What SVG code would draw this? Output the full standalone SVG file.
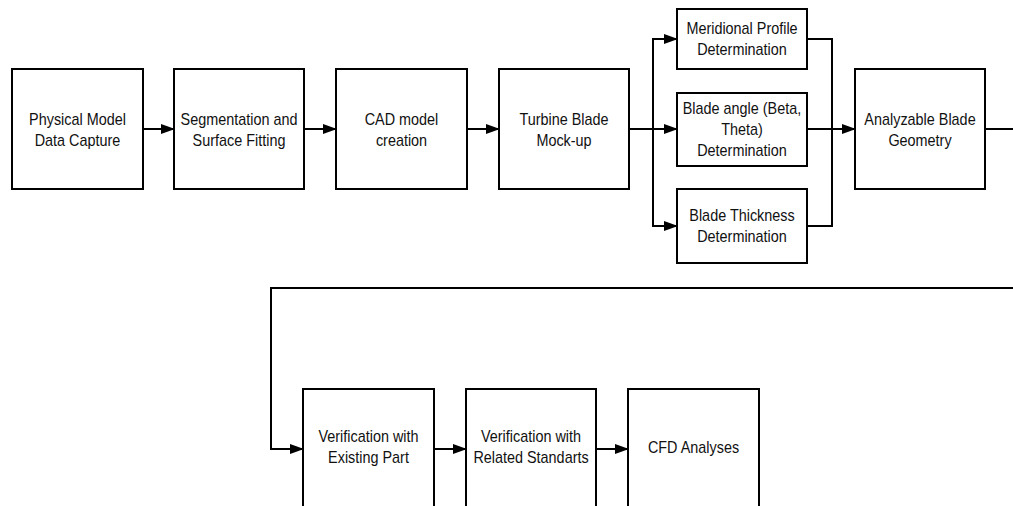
<svg xmlns="http://www.w3.org/2000/svg" width="1013" height="506" viewBox="0 0 1013 506">
<defs>
<marker id="ah" markerWidth="14" markerHeight="12" refX="13" refY="6" orient="auto" markerUnits="userSpaceOnUse">
<path d="M0,1 L14,6 L0,11 Z" fill="#000"/>
</marker>
<style>
.box{fill:#fff;stroke:#000;stroke-width:2}
.t{font-family:"Liberation Sans",Arial,sans-serif;font-size:16px;fill:#111;text-anchor:middle}
.c{fill:none;stroke:#000;stroke-width:2}
</style>
</defs>
<rect width="1013" height="506" fill="#fff"/>
<g id="connectors">
<path class="c" d="M143,129 H174" marker-end="url(#ah)"/>
<path class="c" d="M304,129 H336" marker-end="url(#ah)"/>
<path class="c" d="M467,129 H499" marker-end="url(#ah)"/>
<path class="c" d="M629,129 H677" marker-end="url(#ah)"/>
<path class="c" d="M653,129 V39 H677" marker-end="url(#ah)"/>
<path class="c" d="M653,129 V226 H677" marker-end="url(#ah)"/>
<path class="c" d="M807,39 H832 V129"/>
<path class="c" d="M807,226 H832 V129"/>
<path class="c" d="M807,129 H855" marker-end="url(#ah)"/>
<path class="c" d="M985,129 H1013"/>
<path class="c" d="M1013,288 H271 V449 H303" marker-end="url(#ah)"/>
<path class="c" d="M434,449 H466" marker-end="url(#ah)"/>
<path class="c" d="M596,449 H628" marker-end="url(#ah)"/>
</g>
<g id="n1"><rect class="box" x="12" y="69" width="131" height="120"/><text class="t" transform="translate(77.5,124.5) scale(0.9,1)">Physical Model</text><text class="t" transform="translate(77.5,145.5) scale(0.9,1)">Data Capture</text></g>
<g id="n2"><rect class="box" x="174" y="69" width="130" height="120"/><text class="t" transform="translate(239,124.5) scale(0.9,1)">Segmentation and</text><text class="t" transform="translate(239,145.5) scale(0.9,1)">Surface Fitting</text></g>
<g id="n3"><rect class="box" x="336" y="69" width="131" height="120"/><text class="t" transform="translate(401.5,124.5) scale(0.9,1)">CAD model</text><text class="t" transform="translate(401.5,145.5) scale(0.9,1)">creation</text></g>
<g id="n4"><rect class="box" x="499" y="69" width="130" height="120"/><text class="t" transform="translate(564,124.5) scale(0.9,1)">Turbine Blade</text><text class="t" transform="translate(564,145.5) scale(0.9,1)">Mock-up</text></g>
<g id="n5"><rect class="box" x="677" y="9" width="130" height="60"/><text class="t" transform="translate(742,34) scale(0.9,1)">Meridional Profile</text><text class="t" transform="translate(742,55) scale(0.9,1)">Determination</text></g>
<g id="n6"><rect class="box" x="677" y="93" width="130" height="73"/><text class="t" transform="translate(742,114) scale(0.9,1)">Blade angle (Beta,</text><text class="t" transform="translate(742,135) scale(0.9,1)">Theta)</text><text class="t" transform="translate(742,156) scale(0.9,1)">Determination</text></g>
<g id="n7"><rect class="box" x="677" y="189" width="130" height="74"/><text class="t" transform="translate(742,221) scale(0.9,1)">Blade Thickness</text><text class="t" transform="translate(742,242) scale(0.9,1)">Determination</text></g>
<g id="n8"><rect class="box" x="855" y="69" width="130" height="120"/><text class="t" transform="translate(920,124.5) scale(0.9,1)">Analyzable Blade</text><text class="t" transform="translate(920,145.5) scale(0.9,1)">Geometry</text></g>
<g id="n9"><rect class="box" x="303" y="389" width="131" height="130"/><text class="t" transform="translate(368.5,442) scale(0.9,1)">Verification with</text><text class="t" transform="translate(368.5,463) scale(0.9,1)">Existing Part</text></g>
<g id="n10"><rect class="box" x="466" y="389" width="130" height="130"/><text class="t" transform="translate(531,442) scale(0.9,1)">Verification with</text><text class="t" transform="translate(531,463) scale(0.9,1)">Related Standarts</text></g>
<g id="n11"><rect class="box" x="628" y="389" width="131" height="130"/><text class="t" transform="translate(693.5,452.5) scale(0.9,1)">CFD Analyses</text></g>
</svg>
